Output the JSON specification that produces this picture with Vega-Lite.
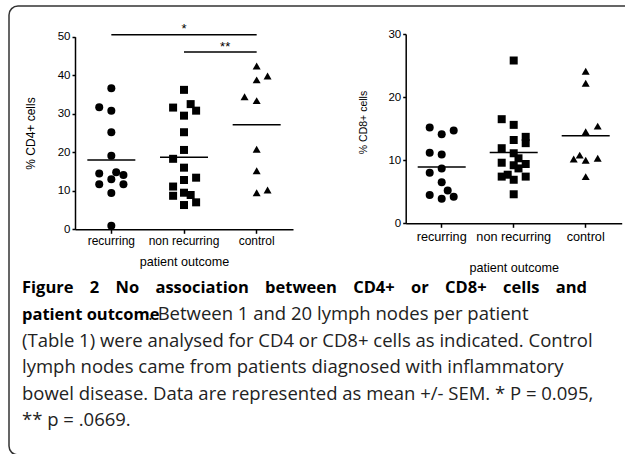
{
  "$schema": "https://vega.github.io/schema/vega-lite/v6.json",
  "width": 640,
  "height": 449,
  "autosize": {"type": "none"},
  "padding": {"left": 9, "top": 6, "right": 0, "bottom": 0},
  "background": "white",
  "config": {
    "view": {"stroke": "#333333", "strokeWidth": 1.5, "cornerRadius": 9},
    "axis": {
      "domainColor": "black", "domainWidth": 1.5, "tickColor": "black", "tickWidth": 1.5, "tickSize": 4,
      "labelColor": "black", "labelFont": "Liberation Sans", "titleFont": "Liberation Sans",
      "titleFontWeight": "normal", "titleColor": "black", "grid": false, "minExtent": 0
    }
  },
  "title": {
    "text": ["Figure \u28002 \u2800No \u2800association \u2800between \u2800CD4+ \u2800or \u2800CD8+ \u2800cells \u2800and", "patient outcome"],
    "subtitle": [
      "\u2800\u2800\u2800\u2800\u2800\u2800\u2800\u2800\u2800. Between 1 and 20 lymph nodes per patient",
      "(Table 1) were analysed for CD4 or CD8+ cells as indicated. Control",
      "lymph nodes came from patients diagnosed with inflammatory",
      "bowel disease. Data are represented as mean +/- SEM. * P = 0.095,",
      "** p = .0669."
    ],
    "orient": "bottom", "anchor": "start", "frame": "group", "offset": -175, "dx": 13,
    "font": "Open Sans", "fontSize": 16.5, "fontWeight": "bold", "color": "black", "lineHeight": 26.5,
    "subtitleFont": "Open Sans", "subtitleFontSize": 18.5, "subtitleColor": "#222222",
    "subtitleLineHeight": 26.5, "subtitlePadding": -18
  },
  "layer": [
    {
      "data": {"values": [
        {"group": "recurring", "v": 36.6, "j": 0},
        {"group": "recurring", "v": 31.7, "j": -1},
        {"group": "recurring", "v": 30.8, "j": 0},
        {"group": "recurring", "v": 25.2, "j": 0},
        {"group": "recurring", "v": 19.1, "j": 0},
        {"group": "recurring", "v": 14.5, "j": -1},
        {"group": "recurring", "v": 14.8, "j": 0.4},
        {"group": "recurring", "v": 14.1, "j": 1},
        {"group": "recurring", "v": 13.0, "j": 0},
        {"group": "recurring", "v": 11.7, "j": -1},
        {"group": "recurring", "v": 11.7, "j": 1},
        {"group": "recurring", "v": 9.4, "j": 0},
        {"group": "recurring", "v": 0.9, "j": 0},
        {"group": "non recurring", "v": 36.2, "j": 0},
        {"group": "non recurring", "v": 31.6, "j": -0.9},
        {"group": "non recurring", "v": 32.5, "j": 0.55},
        {"group": "non recurring", "v": 30.8, "j": 1},
        {"group": "non recurring", "v": 29.5, "j": 0},
        {"group": "non recurring", "v": 25.2, "j": 0},
        {"group": "non recurring", "v": 20.6, "j": 0},
        {"group": "non recurring", "v": 18.3, "j": -0.9},
        {"group": "non recurring", "v": 16.0, "j": 0},
        {"group": "non recurring", "v": 13.4, "j": 1},
        {"group": "non recurring", "v": 12.8, "j": 0},
        {"group": "non recurring", "v": 11.1, "j": -0.9},
        {"group": "non recurring", "v": 8.7, "j": -0.9},
        {"group": "non recurring", "v": 9.5, "j": 0},
        {"group": "non recurring", "v": 8.9, "j": 0.55},
        {"group": "non recurring", "v": 7.0, "j": 1},
        {"group": "non recurring", "v": 6.3, "j": 0},
        {"group": "control", "v": 42.4, "j": 0},
        {"group": "control", "v": 38.8, "j": 0},
        {"group": "control", "v": 39.8, "j": 0.9},
        {"group": "control", "v": 34.4, "j": -1},
        {"group": "control", "v": 33.4, "j": 0},
        {"group": "control", "v": 20.8, "j": 0},
        {"group": "control", "v": 15.2, "j": 0},
        {"group": "control", "v": 9.5, "j": 0},
        {"group": "control", "v": 10.2, "j": 0.9}
      ]},
      "layer": [
        {
          "mark": {"type": "point", "filled": true, "color": "black", "opacity": 1, "size": 64},
          "encoding": {
            "x": {"field": "group", "type": "nominal", "title": "patient outcome",
              "scale": {"type": "band", "domain": ["recurring", "non recurring", "control"], "range": [66, 284], "paddingInner": 0, "paddingOuter": 0},
              "axis": {"orient": "bottom", "offset": -225.7, "labelAngle": 0, "labelFontSize": 12, "labelPadding": 2, "titleFontSize": 12.6, "titlePadding": 9}},
            "xOffset": {"field": "j", "type": "quantitative", "scale": {"domain": [-3, 3], "range": [0, 72.67]}},
            "y": {"field": "v", "type": "quantitative", "title": "% CD4+ cells",
              "scale": {"domain": [0, 50], "range": [223.3, 30.7], "nice": false},
              "axis": {"orient": "left", "offset": -66, "values": [0, 10, 20, 30, 40, 50], "tickSize": 3, "labelFontSize": 11.5, "labelPadding": 2, "titleFontSize": 12, "titlePadding": 20}},
            "shape": {"field": "group", "type": "nominal",
              "scale": {"domain": ["recurring", "non recurring", "control"], "range": ["circle", "square", "triangle-up"]}, "legend": null}
          }
        },
        {
          "mark": {"type": "tick", "color": "black", "size": 48, "thickness": 1.5},
          "encoding": {
            "x": {"field": "group", "type": "nominal", "title": "patient outcome"},
            "y": {"aggregate": "mean", "field": "v", "type": "quantitative", "title": "% CD4+ cells"}
          }
        },
        {
          "data": {"values": [
            {"group": "recurring", "group2": "control", "y": 50.5},
            {"group": "non recurring", "group2": "control", "y": 46.0}
          ]},
          "mark": {"type": "rule", "color": "black", "strokeWidth": 1.5},
          "encoding": {
            "x": {"field": "group", "type": "nominal", "title": "patient outcome"},
            "x2": {"field": "group2"},
            "y": {"field": "y", "type": "quantitative", "title": "% CD4+ cells"}
          }
        },
        {
          "data": {"values": [
            {"group": "non recurring", "label": "*", "ty": 51.0, "j": 0},
            {"group": "non recurring", "label": "**", "ty": 46.4, "j": 3.4}
          ]},
          "mark": {"type": "text", "font": "Liberation Sans", "fontSize": 13, "baseline": "alphabetic", "color": "black"},
          "encoding": {
            "x": {"field": "group", "type": "nominal", "title": "patient outcome"},
            "xOffset": {"field": "j", "type": "quantitative", "scale": {"domain": [-3, 3], "range": [0, 72.67]}},
            "y": {"field": "ty", "type": "quantitative", "title": "% CD4+ cells"},
            "text": {"field": "label"}
          }
        }
      ]
    },
    {
      "data": {"values": [
        {"group": "recurring", "v": 15.2, "j": -1},
        {"group": "recurring", "v": 14.7, "j": 1},
        {"group": "recurring", "v": 14.1, "j": 0},
        {"group": "recurring", "v": 11.2, "j": -1},
        {"group": "recurring", "v": 10.9, "j": 0},
        {"group": "recurring", "v": 8.0, "j": -1},
        {"group": "recurring", "v": 8.7, "j": 0},
        {"group": "recurring", "v": 6.5, "j": 0},
        {"group": "recurring", "v": 4.5, "j": -1},
        {"group": "recurring", "v": 5.2, "j": 0.5},
        {"group": "recurring", "v": 4.2, "j": 1},
        {"group": "recurring", "v": 3.9, "j": 0},
        {"group": "non recurring", "v": 25.8, "j": 0},
        {"group": "non recurring", "v": 16.5, "j": -1},
        {"group": "non recurring", "v": 15.6, "j": 0},
        {"group": "non recurring", "v": 13.2, "j": 0},
        {"group": "non recurring", "v": 13.7, "j": 1},
        {"group": "non recurring", "v": 12.7, "j": 1},
        {"group": "non recurring", "v": 11.9, "j": -1},
        {"group": "non recurring", "v": 11.1, "j": 0},
        {"group": "non recurring", "v": 10.3, "j": 0.4},
        {"group": "non recurring", "v": 9.6, "j": -1},
        {"group": "non recurring", "v": 9.2, "j": 0},
        {"group": "non recurring", "v": 9.4, "j": 1},
        {"group": "non recurring", "v": 8.7, "j": 0.4},
        {"group": "non recurring", "v": 7.4, "j": -1},
        {"group": "non recurring", "v": 7.7, "j": -0.5},
        {"group": "non recurring", "v": 7.4, "j": 1},
        {"group": "non recurring", "v": 6.9, "j": 0},
        {"group": "non recurring", "v": 4.6, "j": 0},
        {"group": "control", "v": 24.1, "j": 0},
        {"group": "control", "v": 22.2, "j": 0},
        {"group": "control", "v": 15.4, "j": 1},
        {"group": "control", "v": 14.5, "j": 0},
        {"group": "control", "v": 10.2, "j": -1},
        {"group": "control", "v": 10.8, "j": -0.5},
        {"group": "control", "v": 10.0, "j": 0},
        {"group": "control", "v": 10.3, "j": 1},
        {"group": "control", "v": 7.4, "j": 0}
      ]},
      "layer": [
        {
          "mark": {"type": "point", "filled": true, "color": "black", "opacity": 1, "size": 64},
          "encoding": {
            "x": {"field": "group", "type": "nominal", "title": "patient outcome",
              "scale": {"type": "band", "domain": ["recurring", "non recurring", "control"], "range": [396.7, 612.7], "paddingInner": 0, "paddingOuter": 0},
              "axis": {"orient": "bottom", "offset": -231.7, "labelAngle": 0, "labelFontSize": 12.7, "labelPadding": 3, "titleFontSize": 12.6, "titlePadding": 18}},
            "xOffset": {"field": "j", "type": "quantitative", "scale": {"domain": [-3, 3], "range": [0, 72]}},
            "y": {"field": "v", "type": "quantitative", "title": "% CD8+ cells",
              "scale": {"domain": [0, 30], "range": [217.3, 28], "nice": false},
              "axis": {"orient": "left", "offset": -396.7, "values": [0, 10, 20, 30], "tickSize": 3, "labelFontSize": 11.5, "labelPadding": 2, "titleFontSize": 10.5, "titlePadding": 19, "titleY": 116}},
            "shape": {"field": "group", "type": "nominal",
              "scale": {"domain": ["recurring", "non recurring", "control"], "range": ["circle", "square", "triangle-up"]}, "legend": null}
          }
        },
        {
          "mark": {"type": "tick", "color": "black", "size": 48, "thickness": 1.5},
          "encoding": {
            "x": {"field": "group", "type": "nominal", "title": "patient outcome"},
            "y": {"aggregate": "mean", "field": "v", "type": "quantitative", "title": "% CD8+ cells"}
          }
        }
      ]
    }
  ],
  "resolve": {
    "scale": {"x": "independent", "y": "independent", "xOffset": "independent", "shape": "independent"},
    "axis": {"x": "independent", "y": "independent"}
  }
}
